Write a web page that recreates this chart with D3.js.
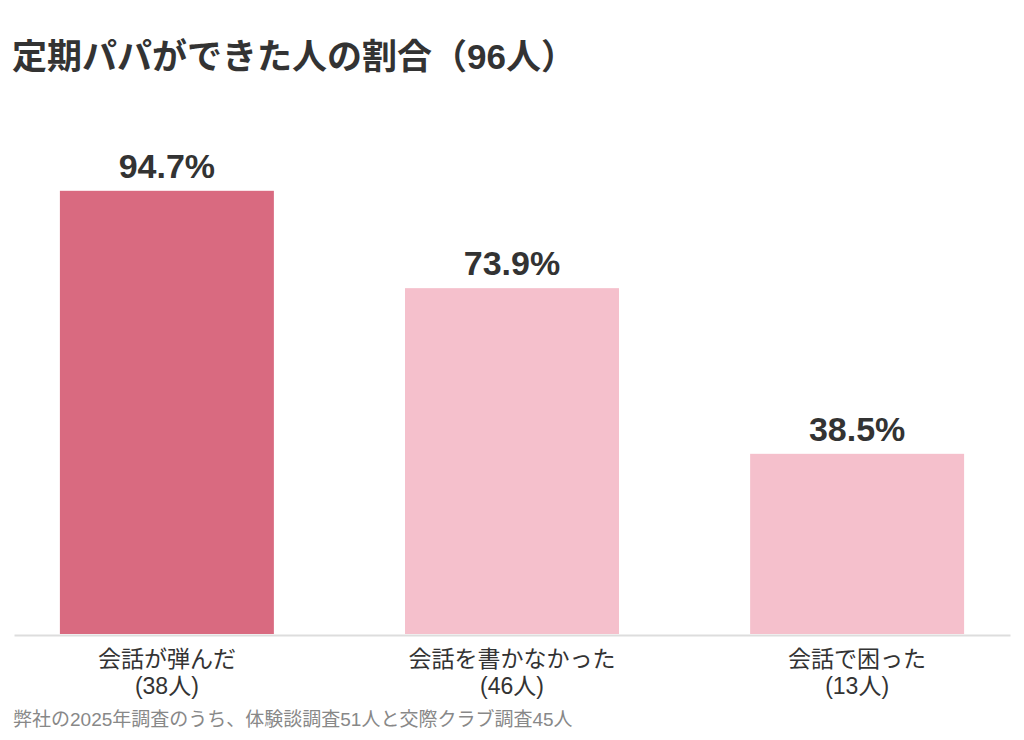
<!DOCTYPE html>
<html>
<head>
<meta charset="utf-8">
<script src="https://cdn.jsdelivr.net/npm/d3@7"></script>
<style>
  body { margin: 0; background: #fff; }
  svg { display: block; font-family: "Liberation Sans", "Noto Sans CJK JP", sans-serif; }
</style>
</head>
<body>
<svg width="1024" height="740"></svg>
<script>
const categories = ["会話が弾んだ", "会話を書かなかった", "会話で困った"];
const counts = ["(38人)", "(46人)", "(13人)"];
const values = [94.7, 73.9, 38.5];
const colors = ["#d96a80", "#f5c0cc", "#f5c0cc"];

const svg = d3.select("svg");

const left = 14;
const right = 1010;
const baseline = 634;

const x = d3
  .scaleBand()
  .domain(categories)
  .range([left, right])
  .paddingInner(0.38)
  .paddingOuter(0.133);

const y = d3.scaleLinear().domain([0, 100]).range([baseline, 166]);

svg
  .append("text")
  .attr("x", 12)
  .attr("y", 69)
  .attr("font-size", 35)
  .attr("font-weight", "bold")
  .attr("fill", "#333")
  .text("定期パパができた人の割合（96人）");

const bars = svg.append("g");

bars
  .selectAll("rect")
  .data(values)
  .join("rect")
  .attr("x", (d, i) => x(categories[i]))
  .attr("y", (d) => y(d))
  .attr("width", x.bandwidth())
  .attr("height", (d) => baseline - y(d))
  .attr("fill", (d, i) => colors[i]);

bars
  .selectAll("text")
  .data(values)
  .join("text")
  .attr("x", (d, i) => x(categories[i]) + x.bandwidth() / 2)
  .attr("y", (d) => y(d) - 13)
  .attr("text-anchor", "middle")
  .attr("font-size", 34)
  .attr("font-weight", "bold")
  .attr("fill", "#333")
  .text((d) => d.toFixed(1) + "%");

// baseline axis
const axis = svg
  .append("g")
  .attr("transform", `translate(0, ${baseline + 1})`)
  .call(d3.axisBottom(x).tickSize(0).tickFormat(""));

axis.select(".domain").attr("stroke", "#ddd").attr("stroke-width", 2);

const labels = svg.append("g");

labels
  .selectAll("text")
  .data(categories)
  .join("text")
  .attr("x", (d) => x(d) + x.bandwidth() / 2)
  .attr("y", 667)
  .attr("text-anchor", "middle")
  .attr("font-size", 23)
  .attr("fill", "#333")
  .each(function (d, i) {
    const t = d3.select(this);
    t.append("tspan").attr("x", x(d) + x.bandwidth() / 2).text(d);
    t.append("tspan")
      .attr("x", x(d) + x.bandwidth() / 2)
      .attr("dy", 27)
      .text(counts[i]);
  });

svg
  .append("text")
  .attr("x", 13)
  .attr("y", 726)
  .attr("font-size", 19)
  .attr("fill", "#888")
  .text("弊社の2025年調査のうち、体験談調査51人と交際クラブ調査45人");
</script>
</body>
</html>
